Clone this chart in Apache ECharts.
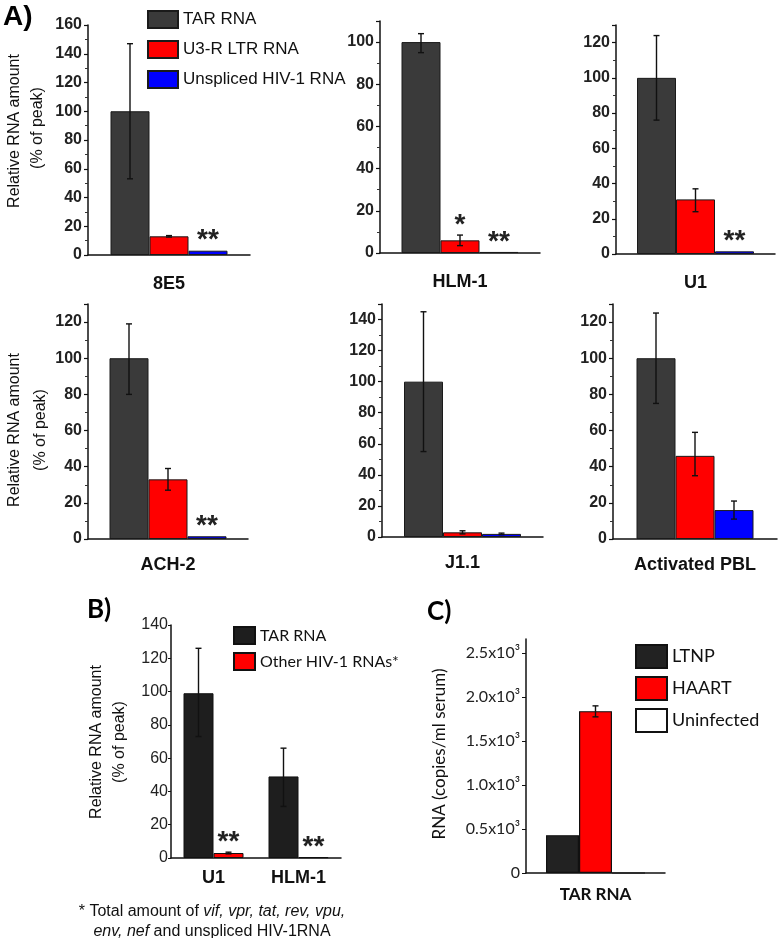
<!DOCTYPE html>
<html><head><meta charset="utf-8">
<script src="https://cdn.jsdelivr.net/npm/echarts@6/dist/echarts.min.js"></script>
<style>html,body{margin:0;padding:0;background:#fff}#c{width:778px;height:938px}</style>
</head><body><div id="c"></div><script>
// ---------- data ----------
const panelA = ['8E5', 'HLM-1', 'U1', 'ACH-2', 'J1.1', 'Activated PBL'];
const seriesA = ['TAR RNA', 'U3-R LTR RNA', 'Unspliced HIV-1 RNA'];
const tarA = [100, 100, 100, 100, 100, 100];
const tarAErr = [[53, 147], [95, 104], [76, 124], [80, 119], [55, 145], [75, 125]];
const ltrA = [13, 6, 31, 33, 3, 46];
const ltrAErr = [[12.5, 13.5], [3.5, 8.5], [24, 37], [27, 39], [2, 4], [35, 59]];
const unsplA = [3, 0.5, 1.5, 1.5, 2, 16];
const unsplAErr = [null, null, null, null, [1.5, 2.5], [11, 21]];
const ltrASig = ['', '*', '', '', '', ''];
const unsplASig = ['**', '**', '**', '**', '', ''];
const yMaxA = [160, 110, 130, 130, 150, 130];

const catB = ['U1', 'HLM-1'];
const seriesB = ['TAR RNA ', 'Other HIV-1 RNAs*'];
const tarB = [99, 49];
const tarBErr = [[73, 126], [31, 66]];
const otherB = [3, 0.5];
const otherBErr = [[2.5, 3.5], null];
const otherBSig = ['**', '**'];

const catC = ['TAR RNA'];
const seriesC = ['LTNP', 'HAART', 'Uninfected'];
const valuesC = [430, 1840, 0];
const errC = [null, [1775, 1900], null];
const yTickLabelsC = ['0', '0.5x10³', '1.0x10³', '1.5x10³', '2.0x10³', '2.5x10³'];

// ---------- layout / style ----------
const FA = '"Liberation Sans", Arial, sans-serif';
const FL = 'Lato, "Open Sans", sans-serif';
const gridsA = [
  {left: 88, top: 25, width: 162, height: 230},
  {left: 380, top: 21, width: 160, height: 232},
  {left: 616, top: 25, width: 159, height: 229},
  {left: 88, top: 304, width: 160, height: 235},
  {left: 382, top: 304, width: 161, height: 233},
  {left: 613, top: 304, width: 164, height: 235}
];
const gridB = {left: 171, top: 625, width: 170, height: 233};
const gridC = {left: 526, top: 639, width: 139, height: 234};
const colorsA = ['#3a3a3a', '#ff0000', '#0000ff'];
const colorsB = ['#1e1e1e', '#ff0000'];
const colorsC = ['#222222', '#ff0000', '#ffffff'];
const AX = {color: '#111', width: 1.5};

function makeErr(items, n, bw, sigSize) {
  return function (params, api) {
    const it = items[params.dataIndex];
    const base = api.coord([it.cat, 0]);
    const x = base[0] + (it.k - (n - 1) / 2) * bw;
    const ch = [];
    const st = {stroke: '#111', lineWidth: 1.4};
    if (it.err) {
      const yt = api.coord([it.cat, it.err[1]])[1];
      const yb = api.coord([it.cat, it.err[0]])[1];
      ch.push({type: 'line', shape: {x1: x, y1: yt, x2: x, y2: yb}, style: st});
      ch.push({type: 'line', shape: {x1: x - 3, y1: yt, x2: x + 3, y2: yt}, style: st});
      ch.push({type: 'line', shape: {x1: x - 3, y1: yb, x2: x + 3, y2: yb}, style: st});
    }
    if (it.sig) {
      const top = api.coord([it.cat, Math.max(it.v, it.err ? it.err[1] : 0)])[1];
      ch.push({type: 'text', style: {text: it.sig, x: x, y: top - 10, align: 'center', verticalAlign: 'middle',
        fontSize: sigSize, fontWeight: 'bold', fontFamily: FA, fill: '#222'}});
    }
    return {type: 'group', children: ch};
  };
}

const grid = [], xAxis = [], yAxis = [], series = [];

// ---------- panel A ----------
const valsA = [tarA, ltrA, unsplA];
const errsA = [tarAErr, ltrAErr, unsplAErr];
const sigsA = [null, ltrASig, unsplASig];
panelA.forEach((name, i) => {
  grid.push(gridsA[i]);
  xAxis.push({type: 'category', gridIndex: i, data: [name],
    axisLine: {lineStyle: AX}, axisTick: {show: false},
    axisLabel: {fontSize: 18, fontWeight: 'bold', color: '#111', fontFamily: FA, margin: i < 3 ? 20 : 17}});
  yAxis.push({type: 'value', gridIndex: i, min: 0, max: yMaxA[i], interval: 20,
    axisLine: {show: true, lineStyle: AX},
    axisTick: {show: true, length: 4, lineStyle: {color: '#111', width: 1.2}},
    minorTick: {show: true, splitNumber: 2, length: 3, lineStyle: {color: '#333', width: 1}},
    splitLine: {show: false},
    axisLabel: {fontSize: 16, fontWeight: 'bold', color: '#222', fontFamily: FA, margin: 6,
      showMaxLabel: yMaxA[i] % 20 === 0}});
  const items = [];
  seriesA.forEach((s, k) => {
    series.push({type: 'bar', name: s, xAxisIndex: i, yAxisIndex: i, data: [valsA[k][i]],
      barWidth: 39, barGap: '0%', silent: true,
      itemStyle: {color: colorsA[k], borderColor: '#1a1a1a', borderWidth: 1}});
    items.push({cat: 0, k: k, v: valsA[k][i], err: errsA[k][i], sig: sigsA[k] ? sigsA[k][i] : ''});
  });
  series.push({type: 'custom', xAxisIndex: i, yAxisIndex: i, z: 5, silent: true,
    renderItem: makeErr(items, 3, 39, 28),
    data: items.map(it => [it.cat, it.v])});
});

// ---------- panel B ----------
grid.push(gridB);
xAxis.push({type: 'category', gridIndex: 6, data: catB, axisLine: {lineStyle: AX}, axisTick: {show: false},
  axisLabel: {fontSize: 18, fontWeight: 'bold', color: '#111', fontFamily: FA, margin: 11}});
yAxis.push({type: 'value', gridIndex: 6, min: 0, max: 140, interval: 20,
  axisLine: {show: true, lineStyle: AX}, axisTick: {show: true, length: 3, lineStyle: {color: '#111'}},
  splitLine: {show: false},
  axisLabel: {fontSize: 16, color: '#222', fontFamily: FA, margin: 3}});
const valsB = [tarB, otherB], errsB = [tarBErr, otherBErr], sigsB = [null, otherBSig];
const itemsB = [];
seriesB.forEach((s, k) => {
  series.push({type: 'bar', name: s, xAxisIndex: 6, yAxisIndex: 6, data: valsB[k],
    barWidth: 30, barGap: '0%', silent: true,
    itemStyle: {color: colorsB[k], borderColor: '#111', borderWidth: 1}});
  catB.forEach((c, j) => itemsB.push({cat: j, k: k, v: valsB[k][j], err: errsB[k][j], sig: sigsB[k] ? sigsB[k][j] : ''}));
});
series.push({type: 'custom', xAxisIndex: 6, yAxisIndex: 6, z: 5, silent: true,
  renderItem: makeErr(itemsB, 2, 30, 28), data: itemsB.map(it => [it.cat, it.v])});

// ---------- panel C ----------
grid.push(gridC);
xAxis.push({type: 'category', gridIndex: 7, data: catC, axisLine: {lineStyle: AX}, axisTick: {show: false},
  axisLabel: {fontSize: 17, fontWeight: 'bold', color: '#111', fontFamily: FL, margin: 13}});
yAxis.push({type: 'value', gridIndex: 7, min: 0, max: 2660, interval: 500,
  axisLine: {show: true, lineStyle: AX}, axisTick: {show: true, length: 4, lineStyle: {color: '#111'}},
  splitLine: {show: false},
  axisLabel: {fontSize: 16, color: '#222', fontFamily: FL, margin: 6, showMaxLabel: false,
    formatter: v => (v % 500 === 0 && yTickLabelsC[v / 500] !== undefined) ? yTickLabelsC[v / 500] : ''}});
const itemsC = [];
seriesC.forEach((s, k) => {
  series.push({type: 'bar', name: s, xAxisIndex: 7, yAxisIndex: 7, data: [valuesC[k]],
    barWidth: 33, barGap: '0%', silent: true,
    itemStyle: {color: colorsC[k], borderColor: '#111', borderWidth: 1.2}});
  itemsC.push({cat: 0, k: k, v: valuesC[k], err: errC[k], sig: ''});
});
series.push({type: 'custom', xAxisIndex: 7, yAxisIndex: 7, z: 5, silent: true,
  renderItem: makeErr(itemsC, 3, 33, 28), data: itemsC.map(it => [it.cat, it.v])});

// ---------- text ----------
function vt(x, y, text, font) {
  return {type: 'text', x: x, y: y, rotation: Math.PI / 2,
    style: {text: text, align: 'center', verticalAlign: 'middle', font: font, fill: '#111'}};
}
const graphic = [
  {type: 'text', x: 3, y: 17, style: {text: 'A)', font: 'bold 28px ' + FA, fill: '#000', verticalAlign: 'middle'}},
  {type: 'text', x: 87, y: 610, style: {text: 'B)', font: 'bold 26px ' + FL, fill: '#000', verticalAlign: 'middle'}},
  {type: 'text', x: 427, y: 612, style: {text: 'C)', font: 'bold 26px ' + FL, fill: '#000', verticalAlign: 'middle'}},
  vt(15, 131, 'Relative RNA amount', '16px ' + FA),
  vt(38, 128, '(% of peak)', '16px ' + FA),
  vt(15, 430, 'Relative RNA amount', '16px ' + FA),
  vt(41, 430, '(% of peak)', '16px ' + FA),
  vt(97, 742, 'Relative RNA amount', '16px ' + FA),
  vt(120, 742, '(% of peak)', '16px ' + FA),
  vt(440, 754, 'RNA (copies/ml serum)', '17px ' + FL),
  {type: 'text', x: 212, y: 922, style: {
    text: '{n|* Total amount of }{i|vif, vpr, tat, rev, vpu,}\n{i|env, nef}{n| and unspliced HIV-1RNA}',
    align: 'center', verticalAlign: 'middle',
    rich: {n: {fontSize: 16, fontFamily: FA, fill: '#111', lineHeight: 20},
           i: {fontSize: 16, fontFamily: FA, fontStyle: 'italic', fill: '#111', lineHeight: 20}}}}
];

const legBase = {orient: 'vertical', icon: 'rect', selectedMode: false, padding: 0};
const option = {
  animation: false,
  backgroundColor: '#fff',
  grid, xAxis, yAxis, series, graphic,
  legend: [
    Object.assign({}, legBase, {data: seriesA, left: 147, top: 10, itemWidth: 30, itemHeight: 17, itemGap: 11,
      textStyle: {fontSize: 17, fontFamily: FA, color: '#111'}}),
    Object.assign({}, legBase, {data: seriesB, left: 233, top: 626, itemWidth: 21, itemHeight: 17, itemGap: 7,
      textStyle: {fontSize: 16, fontFamily: FL, color: '#111'}}),
    Object.assign({}, legBase, {data: seriesC, left: 635, top: 644, itemWidth: 31, itemHeight: 23, itemGap: 7,
      textStyle: {fontSize: 18, fontFamily: FL, color: '#111'}})
  ]
};
const chart = echarts.init(document.getElementById('c'), null, {renderer: 'canvas'});
chart.setOption(option);
</script></body></html>
